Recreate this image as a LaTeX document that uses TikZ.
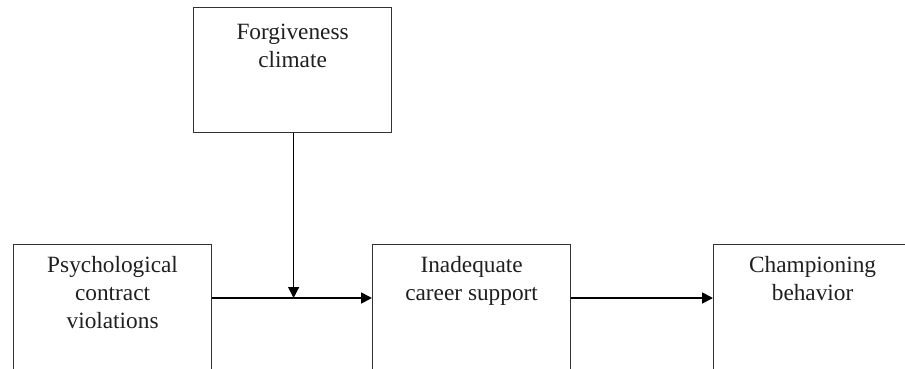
\documentclass[tikz,border=0pt]{standalone}
\usepackage{fontspec}
\setmainfont{Liberation Serif}
\usetikzlibrary{arrows.meta,calc}
\begin{document}
\begin{tikzpicture}[x=1pt,y=1pt,
  box/.style={draw=black!80, line width=1.2pt, minimum width=198pt, inner sep=0pt, anchor=north west},
  lbl/.style={anchor=north, align=center, font=\fontsize{23.3}{28}\selectfont, text=black!88, inner sep=0pt},
  arr/.style={line width=1.8pt, -{Triangle[length=11pt,width=11pt]}},
  varr/.style={line width=1.3pt, -{Triangle[length=11pt,width=11pt]}}]
\useasboundingbox (0,0) rectangle (905,368);
\node[box, minimum height=125pt] (forg) at (193,361) {};
\node[box, minimum height=150pt] (pcv) at (13,124) {};
\node[box, minimum height=150pt] (ics) at (372,124) {};
\node[box, minimum height=150pt] (champ) at (713,124) {};
\node[lbl, yshift=-17pt] (forgt) at (forg.north) {Forgiveness\\climate};
\node[lbl, yshift=-12pt] (pcvt) at (pcv.north) {Psychological\\contract\\violations};
\node[lbl, yshift=-12pt] (icst) at (ics.north) {Inadequate\\career support};
\node[lbl, yshift=-12pt] (champt) at (champ.north) {Championing\\behavior};
\coordinate (a1) at ($(pcv.north east)+(0,-54)$);
\coordinate (a2) at ($(ics.north west)+(0,-54)$);
\coordinate (a3) at ($(ics.north east)+(0,-54)$);
\coordinate (a4) at ($(champ.north west)+(0,-54)$);
\coordinate (v) at ($(forg.south)+(1,0)$);
\draw[arr] (a1) -- (a2);
\draw[arr] (a3) -- (a4);
\draw[varr] (v) -- (v |- a1);
\end{tikzpicture}
\end{document}
